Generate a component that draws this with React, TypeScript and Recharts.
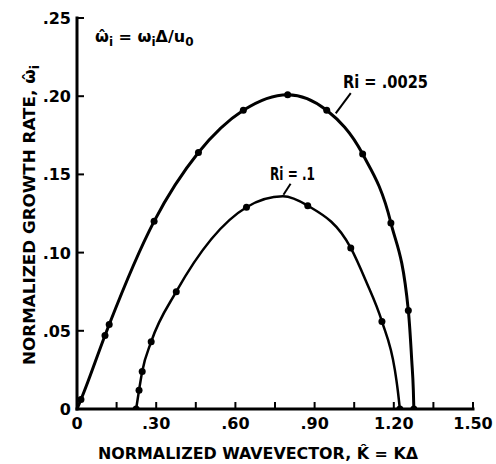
import React from "react";
import {
  ComposedChart,
  Line,
  Scatter,
  XAxis,
  YAxis,
  ReferenceLine,
} from "recharts";

const kDotsA = [0.015, 0.106, 0.122, 0.292, 0.46, 0.63, 0.798, 0.946, 1.082, 1.189, 1.255, 1.276];
const wDotsA = [0.006, 0.047, 0.054, 0.12, 0.164, 0.191, 0.201, 0.191, 0.163, 0.119, 0.063, 0];
const kCurveA = [0, 0.015, 0.106, 0.122, 0.292, 0.46, 0.63, 0.798, 0.946, 1.082, 1.189, 1.255, 1.268, 1.274, 1.276];
const wCurveA = [0, 0.006, 0.047, 0.054, 0.12, 0.164, 0.191, 0.201, 0.191, 0.163, 0.119, 0.063, 0.031, 0.012, 0];

// Ri = .1
const kDotsB = [0.224, 0.235, 0.247, 0.281, 0.376, 0.642, 0.874, 1.037, 1.155, 1.223];
const wDotsB = [0, 0.012, 0.024, 0.043, 0.075, 0.129, 0.13, 0.103, 0.056, 0];
const kCurveB = [0.224, 0.235, 0.247, 0.281, 0.376, 0.642, 0.78, 0.874, 1.037, 1.094, 1.155, 1.204, 1.215, 1.223];
const wCurveB = [0, 0.012, 0.024, 0.043, 0.075, 0.129, 0.136, 0.13, 0.103, 0.082, 0.056, 0.025, 0.012, 0];

const xTicks = [0, 0.15, 0.3, 0.45, 0.6, 0.75, 0.9, 1.05, 1.2, 1.35, 1.5];
const xTickLabels = ["0", "", ".30", "", ".60", "", ".90", "", "1.20", "", "1.50"];
const yTicks = [0, 0.05, 0.1, 0.15, 0.2, 0.25];
const yTickLabels = ["0", ".05", ".10", ".15", ".20", ".25"];

const zip = (ks: number[], ws: number[]) => ks.map((k, i) => ({ k, w: ws[i] }));
const dotsA = zip(kDotsA, wDotsA);
const curveA = zip(kCurveA, wCurveA);
const dotsB = zip(kDotsB, wDotsB);
const curveB = zip(kCurveB, wCurveB);

const FONT = "'DejaVu Sans', 'Liberation Sans', sans-serif";

const XTick = (props: any) => {
  const { x, y, index } = props;
  const label = xTickLabels[index];
  return (
    <g>
      <line x1={x} x2={x} y1={y} y2={y - 7} stroke="#000" strokeWidth={2} />
      {label ? (
        <text x={x} y={y + 20} textAnchor="middle" fontSize={16} fontWeight="bold" fontFamily={FONT} fill="#000">
          {label}
        </text>
      ) : null}
    </g>
  );
};

const YTick = (props: any) => {
  const { x, y, index } = props;
  return (
    <g>
      <line x1={x} x2={x + 7} y1={y} y2={y} stroke="#000" strokeWidth={2} />
      <text x={x - 6} y={y + 6} textAnchor="end" fontSize={16} fontWeight="bold" fontFamily={FONT} fill="#000">
        {yTickLabels[index]}
      </text>
    </g>
  );
};

const dotShape = (p: any) => <circle cx={p.cx} cy={p.cy} r={3.5} fill="#000" />;

export default function App() {
  return (
    <div style={{ position: "absolute", left: 0, top: 0, width: 496, height: 464, background: "#fff" }}>
      <ComposedChart width={496} height={464} margin={{ top: 18, right: 23, bottom: 0, left: 0 }}>
        <XAxis
          type="number"
          dataKey="k"
          domain={[0, 1.5]}
          ticks={xTicks}
          interval={0}
          height={55}
          tickSize={0}
          tickMargin={0}
          tickLine={false}
          tick={<XTick />}
          axisLine={{ stroke: "#000", strokeWidth: 3, strokeLinecap: "square" }}
          allowDataOverflow
        />
        <YAxis
          type="number"
          dataKey="w"
          domain={[0, 0.25]}
          ticks={yTicks}
          interval={0}
          width={77}
          tickSize={0}
          tickMargin={0}
          tickLine={false}
          tick={<YTick />}
          axisLine={{ stroke: "#000", strokeWidth: 3, strokeLinecap: "square" }}
          allowDataOverflow
        />
        <Line data={curveA} dataKey="w" type="monotone" stroke="#000" strokeWidth={3} dot={false} isAnimationActive={false} />
        <Line data={curveB} dataKey="w" type="monotone" stroke="#000" strokeWidth={2.5} dot={false} isAnimationActive={false} />
        <Scatter data={dotsA} dataKey="w" shape={dotShape} isAnimationActive={false} />
        <Scatter data={dotsB} dataKey="w" shape={dotShape} isAnimationActive={false} />
        <ReferenceLine segment={[{ x: 1.037, y: 0.202 }, { x: 0.98, y: 0.189 }]} stroke="#000" strokeWidth={2} ifOverflow="visible" />
        <ReferenceLine segment={[{ x: 0.809, y: 0.144 }, { x: 0.782, y: 0.137 }]} stroke="#000" strokeWidth={2} ifOverflow="visible" />
      </ComposedChart>
      <svg width={496} height={464} style={{ position: "absolute", left: 0, top: 0, pointerEvents: "none" }} fontFamily={FONT} fontWeight="bold" fill="#000">
        <text x={95} y={42} fontSize={16}>
          ω̂<tspan fontSize={12} dy={4}>i</tspan>
          <tspan dy={-4}> = ω</tspan>
          <tspan fontSize={12} dy={4}>i</tspan>
          <tspan dy={-4}>Δ/u</tspan>
          <tspan fontSize={12} dy={4}>0</tspan>
        </text>
        <text x={343} y={88} fontSize={17} textLength={85} lengthAdjust="spacingAndGlyphs">Ri = .0025</text>
        <text x={270} y={180} fontSize={17} textLength={45} lengthAdjust="spacingAndGlyphs">Ri = .1</text>
        <text x={98} y={459} fontSize={16} textLength={320} lengthAdjust="spacingAndGlyphs">
          NORMALIZED WAVEVECTOR, K̂ = KΔ
        </text>
        <text transform="translate(35,365) rotate(-90)" x={0} y={0} fontSize={16} textLength={300} lengthAdjust="spacingAndGlyphs">
          NORMALIZED GROWTH RATE, ω̂<tspan fontSize={12} dy={4}>i</tspan>
        </text>
      </svg>
    </div>
  );
}
